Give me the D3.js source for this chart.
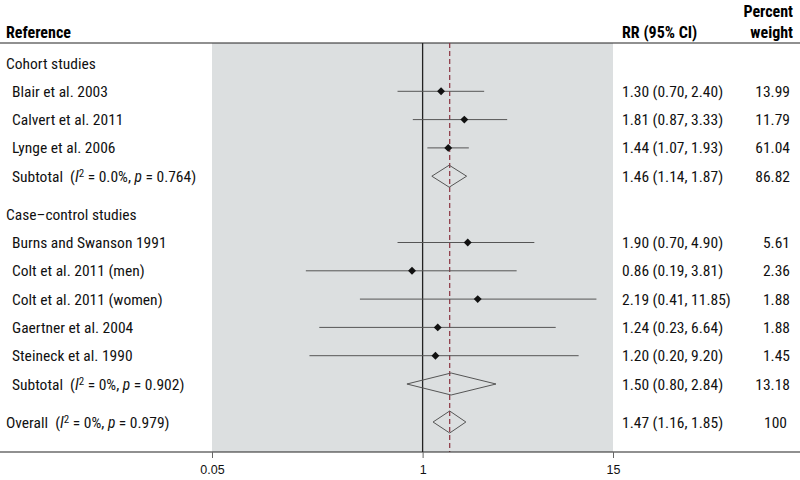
<!DOCTYPE html>
<html>
<head>
<meta charset="utf-8">
<script src="https://cdn.jsdelivr.net/npm/d3@7.9.0/dist/d3.min.js"></script>
<style>
  body { margin: 0; background: #fff; }
  svg { font-family: "Liberation Sans Narrow", "Arial Narrow", "Roboto Condensed", sans-serif; }
  .hdr { font-weight: bold; font-size: 16px; }
  .lbl { font-size: 15.5px; fill: #111; }
</style>
</head>
<body>
<svg width="800" height="480"></svg>
<script>
// row labels in drawing order
const labels = [
  'Cohort studies',
  'Blair et al. 2003',
  'Calvert et al. 2011',
  'Lynge et al. 2006',
  'Subtotal',
  'Case\u2013control studies',
  'Burns and Swanson 1991',
  'Colt et al. 2011 (men)',
  'Colt et al. 2011 (women)',
  'Gaertner et al. 2004',
  'Steineck et al. 1990',
  'Subtotal',
  'Overall'
];
// row kind: g = group heading, s = study, t = subtotal / overall
const kinds = ['g', 's', 's', 's', 't', 'g', 's', 's', 's', 's', 's', 't', 't'];
const rr    = [null, 1.30, 1.81, 1.44, 1.46, null, 1.90, 0.86, 2.19, 1.24, 1.20, 1.50, 1.47];
const lo    = [null, 0.70, 0.87, 1.07, 1.14, null, 0.70, 0.19, 0.41, 0.23, 0.20, 0.80, 1.16];
const hi    = [null, 2.40, 3.33, 1.93, 1.87, null, 4.90, 3.81, 11.85, 6.64, 9.20, 2.84, 1.85];
const weight = [null, '13.99', '11.79', '61.04', '86.82', null, '5.61', '2.36', '1.88', '1.88', '1.45', '13.18', '100'];
// heterogeneity stats for subtotal / overall rows
const hetI2 = { 4: '0.0%', 11: '0%', 12: '0%' };
const hetP  = { 4: '0.764', 11: '0.902', 12: '0.979' };
const tickVals = [0.05, 1, 15];
const overallRR = 1.47;

const svg = d3.select('svg');
const yTop = 43, yBottom = 452;

const x = d3.scaleLog().domain([0.05, 15]).range([212, 613]);

// vertical slot for each row, extra space before a new section
let gaps = 0;
const rowY = labels.map((d, i) => {
  if (i === 5 || i === 12) gaps++;
  return 63 + i * 28.3 + gaps * 9.7;
});

// grey plotting panel
svg.append('rect')
  .attr('x', x(0.05)).attr('y', yTop)
  .attr('width', x(15) - x(0.05)).attr('height', yBottom - yTop)
  .attr('fill', '#dcdfe0');

// header
svg.append('text').attr('class', 'hdr').attr('x', 6).attr('y', 38).text('Reference');
svg.append('text').attr('class', 'hdr').attr('x', 622).attr('y', 38).text('RR (95% CI)');
svg.append('text').attr('class', 'hdr').attr('x', 793).attr('y', 17).attr('text-anchor', 'end').text('Percent');
svg.append('text').attr('class', 'hdr').attr('x', 793).attr('y', 38).attr('text-anchor', 'end').text('weight');

svg.append('line').attr('x1', 0).attr('x2', 800).attr('y1', yTop).attr('y2', yTop)
  .attr('stroke', '#222').attr('stroke-width', 1.2);

// null line and overall estimate
svg.append('line').attr('x1', x(1)).attr('x2', x(1)).attr('y1', yTop).attr('y2', yBottom)
  .attr('stroke', '#222').attr('stroke-width', 1.3);
svg.append('line').attr('x1', x(overallRR)).attr('x2', x(overallRR)).attr('y1', yTop).attr('y2', yBottom)
  .attr('stroke', '#8b3340').attr('stroke-width', 1.2).attr('stroke-dasharray', '5,3');

const rows = labels.map((label, i) => ({
  label, kind: kinds[i], rr: rr[i], lo: lo[i], hi: hi[i], w: weight[i], y: rowY[i], i
}));

// labels column
rows.forEach(r => {
  const t = svg.append('text').attr('class', 'lbl')
    .attr('x', r.kind === 'g' || r.i === 12 ? 6 : 12)
    .attr('y', r.y + 5.5);
  if (r.kind === 't') {
    t.append('tspan').text(r.label + '\u00a0\u00a0(');
    t.append('tspan').attr('font-style', 'italic').text('I');
    t.append('tspan').attr('font-size', 11).attr('dy', -5).text('2');
    t.append('tspan').attr('dy', 5).text(' = ' + hetI2[r.i] + ', ');
    t.append('tspan').attr('font-style', 'italic').text('p');
    t.append('tspan').text(' = ' + hetP[r.i] + ')');
  } else {
    t.text(r.label);
  }
});

const est = rows.filter(r => r.rr !== null);

// confidence intervals for single studies
svg.selectAll('line.ci')
  .data(est.filter(r => r.kind === 's'))
  .join('line')
  .attr('class', 'ci')
  .attr('x1', d => x(d.lo)).attr('x2', d => x(d.hi))
  .attr('y1', d => d.y).attr('y2', d => d.y)
  .attr('stroke', '#555').attr('stroke-width', 1);

svg.selectAll('path.pt')
  .data(est.filter(r => r.kind === 's'))
  .join('path')
  .attr('class', 'pt')
  .attr('transform', d => `translate(${x(d.rr)},${d.y})`)
  .attr('d', d3.symbol(d3.symbolDiamond2, 40))
  .attr('fill', '#111');

// pooled diamonds
svg.selectAll('path.pool')
  .data(est.filter(r => r.kind === 't'))
  .join('path')
  .attr('class', 'pool')
  .attr('d', d => `M${x(d.lo)},${d.y}L${x(d.rr)},${d.y - 11}L${x(d.hi)},${d.y}L${x(d.rr)},${d.y + 11}Z`)
  .attr('fill', 'none').attr('stroke', '#555').attr('stroke-width', 1);

// RR and weight columns
svg.selectAll('text.rr')
  .data(est)
  .join('text')
  .attr('class', 'lbl rr')
  .attr('x', 622).attr('y', d => d.y + 5.5)
  .text(d => `${d.rr.toFixed(2)} (${d.lo.toFixed(2)}, ${d.hi.toFixed(2)})`);

svg.selectAll('text.wt')
  .data(est)
  .join('text')
  .attr('class', 'lbl wt')
  .attr('x', d => d.w === '100' ? 787 : 790).attr('y', d => d.y + 5.5)
  .attr('text-anchor', 'end')
  .text(d => d.w);

// bottom axis
svg.append('line').attr('x1', 0).attr('x2', 800).attr('y1', yBottom).attr('y2', yBottom)
  .attr('stroke', '#222').attr('stroke-width', 1.2);

const ax = svg.append('g')
  .attr('transform', `translate(0,${yBottom})`)
  .call(d3.axisBottom(x).tickValues(tickVals).tickSize(6).tickFormat(d => String(d)));
ax.select('.domain').remove();
ax.selectAll('.tick line').attr('stroke', '#666');
ax.selectAll('.tick text')
  .attr('font-family', '"Liberation Sans Narrow", "Arial Narrow", sans-serif')
  .attr('font-size', 12.5).attr('fill', '#111').attr('dy', '1.0em');
</script>
</body>
</html>
